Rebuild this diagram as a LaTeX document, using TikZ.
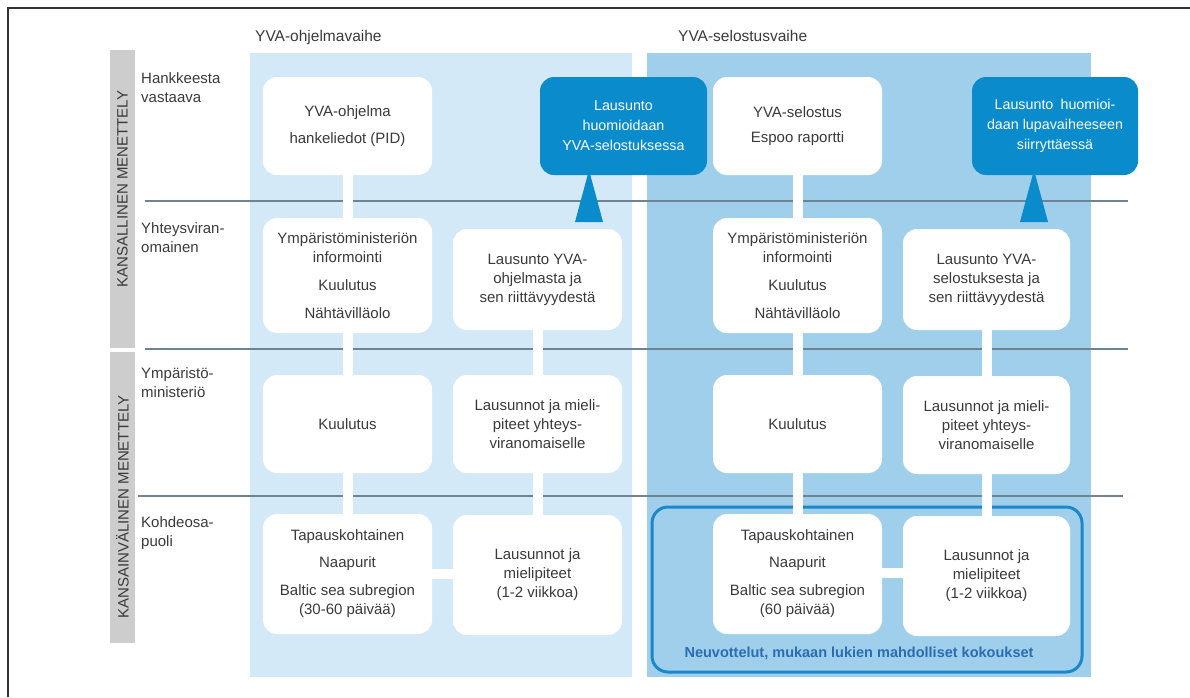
\documentclass[tikz,border=0pt]{standalone}
\usepackage{fontspec}
\setmainfont{Liberation Sans}
\usetikzlibrary{calc}
\definecolor{pA}{HTML}{D4E9F7}
\definecolor{pB}{HTML}{A0CFEC}
\definecolor{call}{HTML}{0A8BCC}
\definecolor{outl}{HTML}{1C88C9}
\definecolor{negt}{HTML}{2B6CB3}
\definecolor{txt}{HTML}{3A3A3A}
\definecolor{rulec}{HTML}{6F8391}
\definecolor{barg}{HTML}{CDCDCD}
\begin{document}
\begin{tikzpicture}[x=1pt,y=-1pt,
  wbox/.style={fill=white, rounded corners=14pt, minimum width=169pt, align=center, inner sep=0pt, text=txt, font=\fontsize{15}{19}\selectfont},
  callbox/.style={fill=call, rounded corners=14pt, minimum height=98pt, align=center, inner sep=0pt, text=white, font=\fontsize{14.3}{20}\selectfont},
  conn/.style={draw=white, line width=10pt},
  sepline/.style={draw=rulec, line width=1.4pt},
  rowlab/.style={anchor=north west, align=left, text=txt, font=\fontsize{15}{18.5}\selectfont, inner sep=0pt},
  barlab/.style={rotate=90, text=txt, font=\fontsize{15}{18}\selectfont, inner sep=0pt},
  head/.style={anchor=base west, text=txt, font=\fontsize{15.5}{18}\selectfont, inner sep=0pt},
  frame/.style={draw=outl, line width=3pt, rounded corners=16pt}
]
\useasboundingbox (0,0) rectangle (1190,697);
% outer frame lines
\draw[line width=1.5pt, black!80] (8,697) -- (8,8) -- (1190,8);
% phase panels
\fill[pA] (250,53) rectangle (632,677);
\fill[pB] (647,53) rectangle (1091,677);
% left bars
\fill[barg] (110,50) rectangle (135,348);
\fill[barg] (110,352) rectangle (135,643);
\node[barlab] (bar1) at (122.5,189) {KANSALLINEN MENETTELY};
\node[barlab] (bar2) at (122.5,507) {KANSAINVÄLINEN MENETTELY};
% headers
\node[head] (h1) at (255,41) {YVA-ohjelmavaihe};
\node[head] (h2) at (678,41) {YVA-selostusvaihe};
% row labels
\node[rowlab] (r1) at (141,72.5) {Hankkeesta\\vastaava};
\node[rowlab] (r2) at (141,222.5) {Yhteysviran-\\omainen};
\node[rowlab] (r3) at (141,367.5) {Ympäristö-\\ministeriö};
\node[rowlab] (r4) at (141,516.5) {Kohdeosa-\\puoli};
% separator lines
\draw[sepline] (145,201) -- (1128,201);
\draw[sepline] (145,349) -- (1128,349);
\draw[sepline] (138,496) -- (1123,496);
% negotiation frame
\node[frame, minimum width=430pt, minimum height=165pt, inner sep=0pt] (G) at (867,589.5) {};
\node[text=negt, font=\bfseries\fontsize{14.5}{17}\selectfont, inner sep=0pt] (Gl) at (859,653) {Neuvottelut, mukaan lukien mahdolliset kokoukset};
% column A
\node[wbox, minimum height=98pt] (A1) at (347.5,126) {YVA-ohjelma\\[8pt]hankeliedot (PID)};
\node[wbox, minimum height=115pt] (A2) at (347.5,275.5) {Ympäristöministeriön\\informointi\\[9pt]Kuulutus\\[9pt]Nähtävilläolo};
\node[wbox, minimum height=98pt] (A3) at (347.5,424) {Kuulutus};
\node[wbox, minimum height=120pt] (A4) at (347.5,574) {Tapauskohtainen\\[8pt]Naapurit\\[9pt]Baltic sea subregion\\(30-60 päivää)};
% column B
\node[wbox, minimum height=101pt] (B2) at (537.5,279.5) {Lausunto YVA-\\ohjelmasta ja\\sen riittävyydestä};
\node[wbox, minimum height=98pt] (B3) at (537.5,424) {Lausunnot ja mieli-\\piteet yhteys-\\viranomaiselle};
\node[wbox, minimum height=120pt] (B4) at (537.5,575) {Lausunnot ja\\mielipiteet\\(1-2 viikkoa)};
% column C
\node[wbox, minimum height=98pt] (C1) at (797.5,126) {YVA-selostus\\[6pt]Espoo raportti};
\node[wbox, minimum height=115pt] (C2) at (797.5,275.5) {Ympäristöministeriön\\informointi\\[9pt]Kuulutus\\[9pt]Nähtävilläolo};
\node[wbox, minimum height=98pt] (C3) at (797.5,424) {Kuulutus};
\node[wbox, minimum height=120pt] (C4) at (797.5,574) {Tapauskohtainen\\[8pt]Naapurit\\[9pt]Baltic sea subregion\\(60 päivää)};
% column D
\node[wbox, minimum width=167pt, minimum height=101pt] (D2) at (986.5,279.5) {Lausunto YVA-\\selostuksesta ja\\sen riittävyydestä};
\node[wbox, minimum width=167pt, minimum height=98pt] (D3) at (986.5,425) {Lausunnot ja mieli-\\piteet yhteys-\\viranomaiselle};
\node[wbox, minimum width=167pt, minimum height=120pt] (D4) at (986.5,576) {Lausunnot ja\\mielipiteet\\(1-2 viikkoa)};
% callouts
\node[callbox, minimum width=167pt] (K1) at (623.5,126) {Lausunto\\huomioidaan\\YVA-selostuksessa};
\node[callbox, minimum width=166pt] (K2) at (1055,126) {Lausunto\enspace huomioi-\\daan lupavaiheeseen\\siirryttäessä};
\coordinate (t1) at (589,170);
\coordinate (t2) at (1034,170);
\fill[call] (t1) -- ++(-14,52) -- ++(28,0) -- cycle;
\fill[call] (t2) -- ++(-14,52) -- ++(28,0) -- cycle;
% connectors
\draw[conn] (A1.south) -- (A2.north);
\draw[conn] (A2.south) -- (A3.north);
\draw[conn] (A3.south) -- (A4.north);
\draw[conn] (B2.south) -- (B3.north);
\draw[conn] (B3.south) -- (B4.north);
\draw[conn] (A4.east |- 0,574) -- (B4.west |- 0,574);
\draw[conn] (C1.south) -- (C2.north);
\draw[conn] (C2.south) -- (C3.north);
\draw[conn] (C3.south) -- (C4.north);
\draw[conn] (D2.south) -- (D3.north);
\draw[conn] (D3.south) -- (D4.north);
\draw[conn] (C4.east |- 0,573) -- (D4.west |- 0,573);
\end{tikzpicture}
\end{document}
